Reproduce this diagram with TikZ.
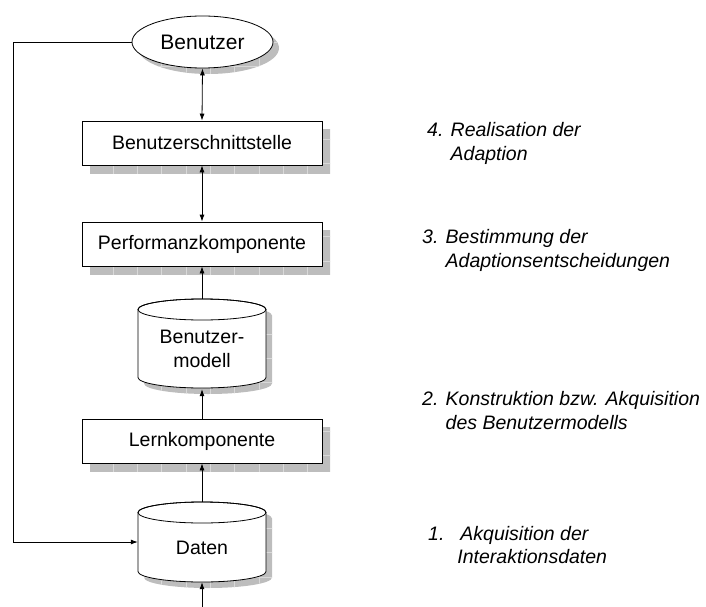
\documentclass[tikz,border=0pt]{standalone}
\usepackage{fontspec}
\setmainfont{Liberation Sans}
\usetikzlibrary{arrows.meta,shapes.geometric}

% grey drop shadow with a faint grid, clipped to the given path
\newcommand\shadowed[1]{%
  \begin{scope}
    \clip #1;
    \fill[shadowgrey] (0,0) rectangle (706,607);
    \foreach \gx in {0,...,29} \draw[gridgrey,line width=0.8pt] (16+24.3*\gx,0) -- (16+24.3*\gx,607);
    \foreach \gy in {0,...,25} \draw[gridgrey,line width=0.8pt] (0,18+24.3*\gy) -- (706,18+24.3*\gy);
  \end{scope}}

% cylinder outline: #1 centre x, #2 top-face centre y, #3 bottom-face centre y
\newcommand\cylside[3]{(#1-64,#2) -- (#1-64,#3) arc[start angle=180,end angle=360,x radius=64pt,y radius=10.5pt] -- (#1+64,#2) arc[start angle=0,end angle=180,x radius=64pt,y radius=10.5pt] -- cycle}

\definecolor{shadowgrey}{gray}{0.74}
\definecolor{gridgrey}{gray}{0.85}

\begin{document}
\begin{tikzpicture}[x=1pt,y=-1pt,
  every node/.style={font=\fontsize{19.5}{23.5}\selectfont},
  procbox/.style={draw,fill=white,line width=0.8pt,minimum width=240pt,minimum height=44pt,inner sep=0pt},
  link/.style={line width=0.8pt},
  tip/.style={-{Latex[length=7pt,width=5pt]}},
  bothtips/.style={{Latex[length=7pt,width=5pt]}-{Latex[length=7pt,width=5pt]}},
  stage/.style={anchor=west,align=left,inner sep=0pt,font=\fontsize{19.5}{23.5}\selectfont\itshape}]

\useasboundingbox (0,0) rectangle (706,607);

% shadows
\shadowed{(202.5+6,42+6) ellipse [x radius=70.5pt,y radius=26pt]}
\shadowed{(82+8,121+8) rectangle (322+8,165+8)}
\shadowed{(82+8,222+8) rectangle (322+8,266+8)}
\shadowed{\cylside{208}{315.5}{383.5}}
\shadowed{(82+8,419+8) rectangle (322+8,463+8)}
\shadowed{\cylside{208}{518.5}{577.5}}

% user
\node[draw,fill=white,line width=0.8pt,ellipse,minimum width=141pt,minimum height=52pt,inner sep=0pt,font=\fontsize{21}{25}\selectfont] (ben) at (202.5,42) {Benutzer};

% boxes
\node[procbox] (bs) at (202,143) {Benutzerschnittstelle};
\node[procbox] (pk) at (202,244) {Performanzkomponente};
\node[procbox] (lk) at (202,441) {Lernkomponente};

% user model cylinder
\fill[white] \cylside{202}{309.5}{377.5};
\draw[line width=0.8pt] \cylside{202}{309.5}{377.5};
\draw[line width=0.8pt] (202,309.5) ellipse [x radius=64pt,y radius=10.5pt];
\node[minimum width=128pt,minimum height=90pt,inner sep=0pt] (bm) at (202,344) {};
\node[align=center,inner sep=0pt] (bmtext) at (202,349) {Benutzer-\\modell};

% data cylinder
\fill[white] \cylside{202}{512.5}{571.5};
\draw[line width=0.8pt] \cylside{202}{512.5}{571.5};
\draw[line width=0.8pt] (202,512.5) ellipse [x radius=64pt,y radius=10.5pt];
\node[minimum width=128pt,minimum height=80pt,inner sep=0pt] (dat) at (202,542) {};
\node[inner sep=0pt] (dattext) at (202,548) {Daten};

% connectors
\draw[link,bothtips] (ben.south) -- (bs.north);
\draw[link,bothtips] (bs.south) -- (pk.north);
\draw[link,tip] (bm.north) -- (pk.south);
\draw[link,tip] (lk.north) -- (bm.south);
\draw[link,tip] (dat.north) -- (lk.south);
\coordinate (feed) at (202,607);
\draw[link,tip] (feed) -- (dat.south);
\coordinate (loop) at (13,42);
\draw[link,tip] (ben.west) -- (loop) |- (dat.west);

% stages
\node[stage] (s4) at (427,143.5) {4. Realisation der\\\hphantom{4. }Adaption};
\node[stage] (s3) at (422,250.5) {3. Bestimmung der\\\hphantom{3. }Adaptionsentscheidungen};
\node[stage] (s2) at (422,410.5) {2. Konstruktion bzw. Akquisition\\\hphantom{2. }des Benutzermodells};
\node[stage] (s1) at (428,545) {1.\hspace{16pt}Akquisition der\\\hphantom{1.}\hspace{13pt}Interaktionsdaten};

\end{tikzpicture}
\end{document}
